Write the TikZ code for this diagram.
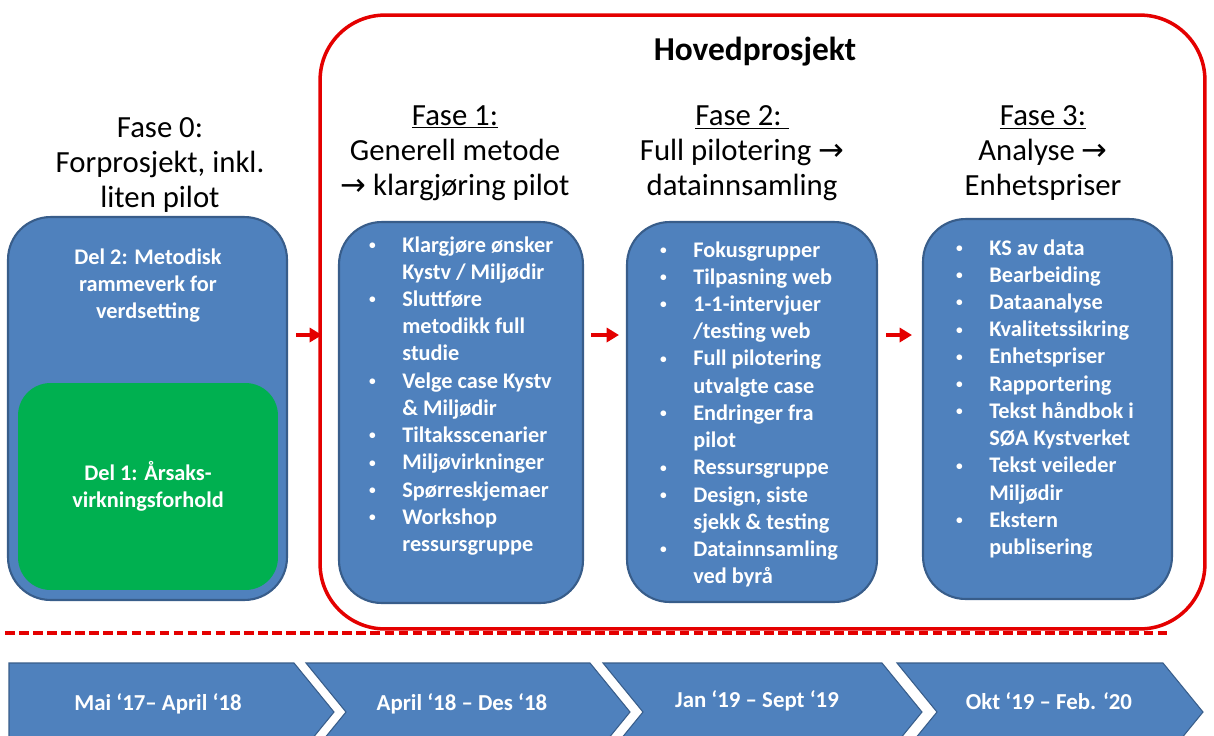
\documentclass[tikz,border=0pt]{standalone}
\usepackage{fontspec}
\setmainfont{Carlito}
\newfontfamily\arrowfont{DejaVu Sans}
\usepackage{graphicx}
\usepackage{xcolor}
\usepackage{tikz}
\usetikzlibrary{arrows.meta}
\usetikzlibrary{positioning}

\definecolor{boxblue}{RGB}{79,129,189}
\definecolor{boxline}{RGB}{56,93,138}
\definecolor{delgreen}{RGB}{0,176,80}
\definecolor{framered}{RGB}{228,0,0}

\newcommand{\rarr}{{\arrowfont →}}
\newcommand{\bul}{\makebox[0.7cm][l]{\hspace*{1pt}\raisebox{0.25ex}{\scalebox{0.6}{\textbullet}}}}
\newcommand{\gap}{\hspace*{0.7cm}}

\begin{document}
\begin{tikzpicture}[x=0.02cm, y=-0.02cm,
  phasebox/.style={rectangle, rounded corners=0.85cm, fill=boxblue, draw=boxline, line width=1.2pt},
  greenbox/.style={rectangle, rounded corners=0.65cm, fill=delgreen},
  framebox/.style={rectangle, rounded corners=1.3cm, draw=framered, line width=2pt},
  boxtext/.style={text=white, font=\bfseries\fontsize{12.7}{15.5}\selectfont, align=center, inner sep=0pt},
  itemtext/.style={text=white, font=\bfseries\fontsize{12.7}{15.5}\selectfont, align=left, inner sep=0pt, anchor=north west},
  titletext/.style={font=\fontsize{17.5}{19.9}\selectfont, align=center, inner sep=0pt, anchor=north},
  datetext/.style={text=white, font=\bfseries\fontsize{13}{15}\selectfont, inner sep=0pt},
  chevron/.style={fill=boxblue, draw=boxline, line width=0.6pt},
  flowarrow/.style={draw=framered, line width=2pt, -{Triangle[length=7pt,width=8pt]}}]

\useasboundingbox (0,0) rectangle (1214,735);
\clip (0,0) rectangle (1214,735);
\fill[white] (0,0) rectangle (1214,735);

% Fase 0
\node[titletext] (t0) at (160,117) {Fase 0:\\Forprosjekt, inkl.\\liten pilot};
\node[phasebox, minimum width=5.58cm, minimum height=7.66cm] (f0) at (147.5,408.5) {};
\node[greenbox, minimum width=5.2cm, minimum height=4.14cm] (g0) at (148,486.5) {};
\node[boxtext, anchor=north] (del2) at (148,248) {Del 2: Metodisk\\rammeverk for\\verdsetting};
\node[boxtext] (del1) at (g0) {Del 1: Årsaks-\\virkningsforhold};

% hovedprosjekt
\node[framebox, minimum width=17.7cm, minimum height=12.28cm] (hoved) at (762.5,322) {};
\node[font=\bfseries\fontsize{19}{22}\selectfont, inner sep=0pt] (hovedtitle) at (755,52) {Hovedprosjekt};

\node[titletext] (t1) at (455,105) {\underline{Fase 1:}\\Generell metode\\\rarr{} klargjøring pilot};
\node[titletext] (t2) at (742,105) {\underline{Fase 2:\ }\\Full pilotering \rarr\\datainnsamling};
\node[titletext] (t3) at (1043,105) {\underline{Fase 3:}\\Analyse \rarr\\Enhetspriser};

\node[phasebox, minimum width=4.88cm, minimum height=7.62cm] (f1) at (461,412.5) {};
\node[phasebox, minimum width=5.0cm, minimum height=7.6cm] (f2) at (752,412) {};
\node[phasebox, minimum width=4.98cm, minimum height=7.6cm] (f3) at (1047.5,409) {};

\node[itemtext] (l1) at (367,236) {\bul Klargjøre ønsker\\ \gap Kystv / Miljødir\\ \bul Sluttføre\\ \gap metodikk full\\ \gap studie\\ \bul Velge case Kystv\\ \gap \& Miljødir\\ \bul Tiltaksscenarier\\ \bul Miljøvirkninger\\ \bul Spørreskjemaer\\ \bul Workshop\\ \gap ressursgruppe};
\node[itemtext] (l2) at (658,241) {\bul Fokusgrupper\\ \bul Tilpasning web\\ \bul 1-1-intervjuer\\ \gap /testing web\\ \bul Full pilotering\\ \gap utvalgte case\\ \bul Endringer fra\\ \gap pilot\\ \bul Ressursgruppe\\ \bul Design, siste\\ \gap sjekk \& testing\\ \bul Datainnsamling\\ \gap ved byrå};
\node[itemtext] (l3) at (954,239) {\bul KS av data\\ \bul Bearbeiding\\ \bul Dataanalyse\\ \bul Kvalitetssikring\\ \bul Enhetspriser\\ \bul Rapportering\\ \bul Tekst håndbok i\\ \gap SØA Kystverket\\ \bul Tekst veileder\\ \gap Miljødir\\ \bul Ekstern\\ \gap publisering};

% arrows between phases
\coordinate (arrowrow) at (0,335);
\draw[flowarrow, shorten <=0.16cm, shorten >=0.32cm] (f0.east |- arrowrow) -- (f1.west |- arrowrow);
\draw[flowarrow, shorten <=0.14cm, shorten >=0.14cm] (f1.east |- arrowrow) -- (f2.west |- arrowrow);
\draw[flowarrow, shorten <=0.16cm, shorten >=0.2cm] (f2.east |- arrowrow) -- (f3.west |- arrowrow);

% timeline
\draw[framered, line width=2pt, dash pattern=on 5.5pt off 2.5pt] (5,633) -- (1167,633);
\fill[chevron] (9,663) -- (294,663) -- (334,712) -- (294,761) -- (9,761) -- cycle;
\fill[chevron] (306,663) -- (590,663) -- (630,712) -- (590,761) -- (306,761) -- (346,712) -- cycle;
\fill[chevron] (603,663) -- (882,663) -- (922,712) -- (882,761) -- (603,761) -- (643,712) -- cycle;
\fill[chevron] (897,663) -- (1163,663) -- (1203,712) -- (1163,761) -- (897,761) -- (937,712) -- cycle;
\node[datetext] (d1) at (158,704) {Mai ‘17– April ‘18};
\node[datetext] (d2) at (462,704) {April ‘18 – Des ‘18};
\node[datetext] (d3) at (757,701) {Jan ‘19 – Sept ‘19};
\node[datetext] (d4) at (1049,701) {Okt ‘19 – Feb. ‘20};
\end{tikzpicture}
\end{document}
